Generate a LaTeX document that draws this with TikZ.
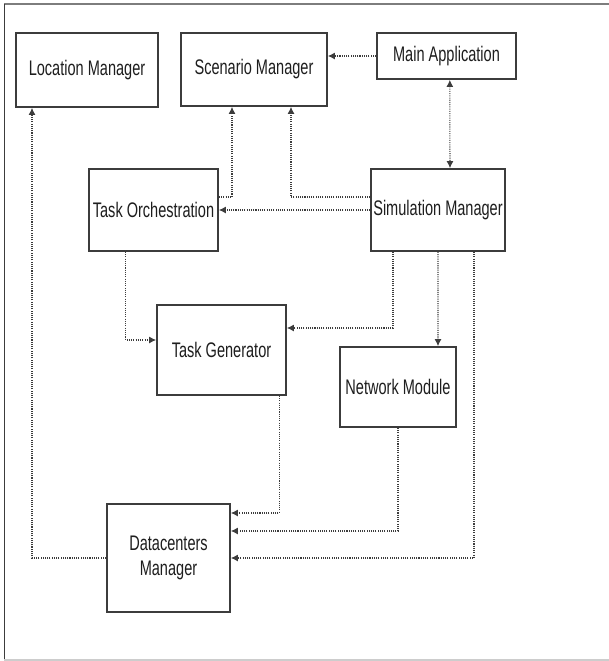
\documentclass[tikz,border=0pt]{standalone}
\usepackage{xcolor}
\usepackage{fontspec}
\setmainfont{Liberation Sans}[FakeStretch=0.69]
\usepackage{tikz}
\usetikzlibrary{arrows.meta}
\definecolor{boxgray}{RGB}{60,60,60}
\definecolor{linkgray}{RGB}{60,60,60}
\definecolor{txtgray}{RGB}{30,30,30}
\definecolor{framegray}{RGB}{125,125,125}
\definecolor{framelight}{RGB}{205,205,205}

\begin{document}
\begin{tikzpicture}[
    x=0.03cm, y=-0.03cm,
    module/.style={draw=boxgray, line width=1.5pt, fill=white, align=center, inner sep=2pt, text=txtgray, font=\fontsize{18}{21.5}\selectfont},
    arrow/.style={-{Latex[length=6pt,width=6pt]}, densely dotted, line width=0.9pt, draw=linkgray},
    biarrow/.style={arrow, {Latex[length=6pt,width=6pt]}-{Latex[length=6pt,width=6pt]}}
]
\useasboundingbox (0,0) rectangle (609,661);

% Frame
\draw[framegray, line width=1.6pt] (4,4) -- (609,4);
\draw[boxgray, line width=1.4pt] (4.5,4) -- (4.5,660);
\draw[framelight, line width=1.4pt] (4,660) -- (609,660);

% Top row
\node[module, minimum width=4.26cm, minimum height=2.22cm] at (87,70) (loc) {Location Manager};
\node[module, minimum width=4.38cm, minimum height=2.19cm] at (254,69.5) (scen) {Scenario Manager};
\node[module, minimum width=4.17cm, minimum height=1.38cm] at (446.5,56) (mainapp) {Main Application};

% Middle row
\node[module, minimum width=3.87cm, minimum height=2.46cm] at (153.5,210) (orch) {Task Orchestration};
\node[module, minimum width=4.02cm, minimum height=2.46cm] at (438,210) (sim) {Simulation Manager};

% Generator and network
\node[module, minimum width=3.87cm, minimum height=2.70cm] at (221.5,350) (gen) {Task Generator};
\node[module, minimum width=3.48cm, minimum height=2.40cm] at (398,387) (net) {Network Module};

% Datacenters
\node[module, minimum width=3.69cm, minimum height=3.24cm] at (168.5,558) (dc) {Datacenters\\Manager};

% Main application links
\draw[arrow] (mainapp.west) -- (mainapp.west -| scen.east);
\draw[biarrow] ([xshift=0.1cm]mainapp.south) -- ([xshift=0.36cm]sim.north);

% Simulation manager links
\draw[arrow] (sim.west) -- (sim.west -| orch.east);
\draw[arrow] ([yshift=0.39cm]sim.west) -| ([xshift=1.11cm]scen.south);
\draw[arrow] ([yshift=0.39cm]orch.east) -| ([xshift=-0.66cm]scen.south);
\draw[arrow] ([xshift=-1.35cm]sim.south) |- ([yshift=0.66cm]gen.east);
\draw[arrow] (sim.south) -- ([xshift=1.2cm]net.north);
\draw[arrow] ([xshift=1.08cm]sim.south) |- (dc.east);

% Orchestration to generator
\draw[arrow] ([xshift=-0.83cm]orch.south) |- ([yshift=0.3cm]gen.west);

% Into datacenters
\draw[arrow] ([xshift=1.73cm]gen.south) |- ([yshift=1.35cm]dc.east);
\draw[arrow] (net.south) |- ([yshift=0.81cm]dc.east);
\draw[arrow] (dc.west) -| ([xshift=-1.65cm]loc.south);

\end{tikzpicture}
\end{document}
